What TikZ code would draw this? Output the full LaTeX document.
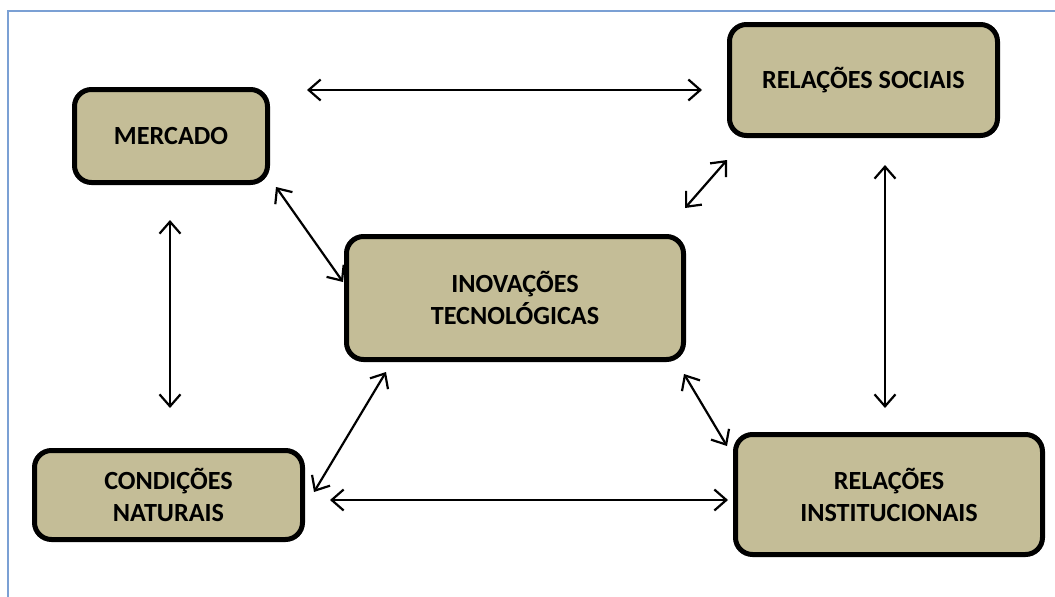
\documentclass[tikz,border=0pt]{standalone}
\usepackage{fontspec}
\setmainfont{Carlito}
\usetikzlibrary{arrows.meta}
\definecolor{boxfill}{HTML}{C4BD97}
\definecolor{framecol}{HTML}{7BA0D4}
\tikzset{
  box/.style={draw=black, fill=boxfill, line width=5pt, rounded corners=17pt,
    align=center, inner sep=0pt, font=\fontsize{26.2}{32}\selectfont\bfseries, text=black},
  link/.style={line width=2.2pt, {Straight Barb[length=12pt,width=21pt]}-{Straight Barb[length=12pt,width=21pt]}}
}
\begin{document}
\begin{tikzpicture}[x=1pt,y=-1pt]
\useasboundingbox (0,0) rectangle (1055,597);
\draw[framecol, line width=2pt] (8,597) -- (8,10.5) -- (1055,10.5);

\node[box, minimum width=193pt, minimum height=93pt] (merc) at (171,136) {MERCADO};
\node[box, minimum width=268pt, minimum height=111pt] (soc) at (863.5,80) {RELAÇÕES SOCIAIS};
\node[box, minimum width=337pt, minimum height=123pt] (inov) at (515,298) {INOVAÇÕES\\TECNOLÓGICAS};
\node[box, minimum width=268pt, minimum height=89pt] (cond) at (168.5,495) {CONDIÇÕES\\NATURAIS};
\node[box, minimum width=307pt, minimum height=120pt] (inst) at (889,494.5) {RELAÇÕES\\INSTITUCIONAIS};

\coordinate (t1) at (307,90);   \coordinate (t2) at (702,90);
\coordinate (a1) at (276,187);  \coordinate (a2) at (343,282);
\coordinate (l1) at (170,220);  \coordinate (l2) at (170,408);
\coordinate (b1) at (685,208);  \coordinate (b2) at (727,160);
\coordinate (r1) at (885,165);  \coordinate (r2) at (885,408);
\coordinate (c1) at (386,372);  \coordinate (c2) at (314,492);
\coordinate (h1) at (330,500);  \coordinate (h2) at (728,500);
\coordinate (d1) at (684,374);  \coordinate (d2) at (727,446);

\draw[link] (t1) -- (t2);
\draw[link] (a1) -- (a2);
\draw[link] (l1) -- (l2);
\draw[link] (b1) -- (b2);
\draw[link] (r1) -- (r2);
\draw[link] (c1) -- (c2);
\draw[link] (h1) -- (h2);
\draw[link] (d1) -- (d2);
\end{tikzpicture}
\end{document}
